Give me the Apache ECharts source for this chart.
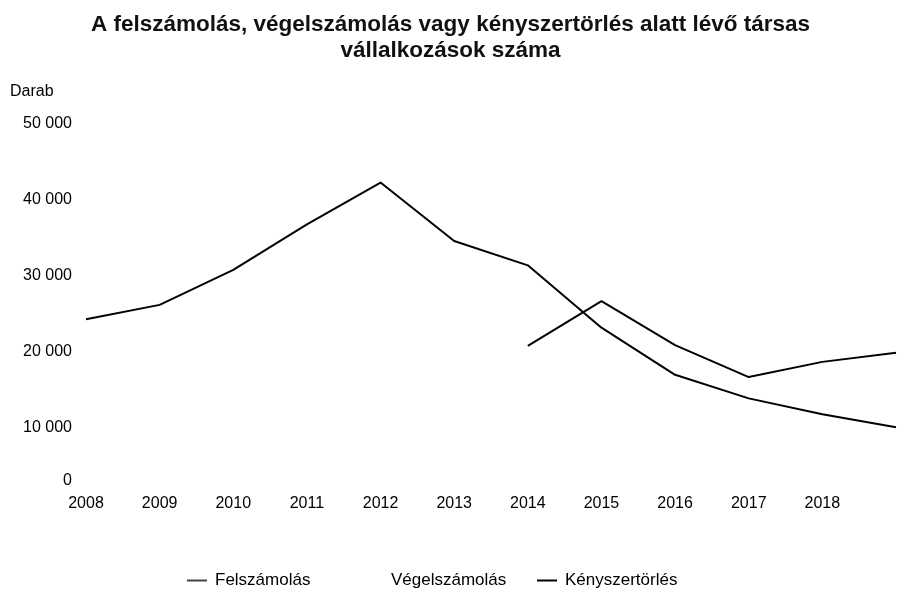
<!DOCTYPE html>
<html>
<head>
<meta charset="utf-8">
<script src="https://cdn.jsdelivr.net/npm/echarts@6/dist/echarts.min.js"></script>
<style>
html,body{margin:0;padding:0;background:#fff;}
#chart{width:901px;height:591px;}
</style>
</head>
<body>
<div id="chart"></div>
<script>
var years = ['2008','2009','2010','2011','2012','2013','2014','2015','2016','2017','2018','2019'];
var yearLabels = ['2008','2009','2010','2011','2012','2013','2014','2015','2016','2017','2018',''];
var felszamolas = [24300, 26200, 30800, 36800, 42300, 34600, 31400, 23200, 17000, 13900, 11800, 10100];
var vegelszamolas = [null, null, null, null, null, null, null, null, null, null, null, null];
var kenyszertorles = [null, null, null, null, null, null, 20800, 26700, 20900, 16700, 18700, 19900];
var yTicks = [0, 10000, 20000, 30000, 40000, 50000];
var yTickLabels = ['0', '10 000', '20 000', '30 000', '40 000', '50 000'];

var chart = echarts.init(document.getElementById('chart'));
var font = '"Liberation Sans", Arial, sans-serif';
function legendAt(name, left, iconColor) {
  return {
    left: left,
    top: 567,
    icon: 'rect',
    itemWidth: 20,
    itemHeight: 2,
    itemGap: 0,
    textStyle: {fontFamily: font, fontSize: 17, color: '#000', padding: [0, 0, 0, 3]},
    data: [{name: name, itemStyle: {color: iconColor, borderWidth: 0}}]
  };
}
chart.setOption({
  animation: false,
  backgroundColor: '#ffffff',
  title: {
    text: 'A felszámolás, végelszámolás vagy kényszertörlés alatt lévő társas\nvállalkozások száma',
    left: 'center',
    top: 7,
    textStyle: {fontFamily: font, fontSize: 22.5, fontWeight: 'bold', color: '#111', lineHeight: 26}
  },
  legend: [
    legendAt('Felszámolás', 182, '#444'),
    legendAt('Végelszámolás', 358, 'rgba(0,0,0,0)'),
    legendAt('Kényszertörlés', 532, '#000')
  ],
  grid: {left: 86, right: 5, top: 124, bottom: 87, containLabel: false},
  xAxis: {
    type: 'category',
    data: years,
    boundaryGap: false,
    axisLine: {show: false},
    axisTick: {show: false},
    splitLine: {show: false},
    axisLabel: {
      interval: 0,
      margin: -8,
      fontFamily: font, fontSize: 16, color: '#000',
      formatter: function (v, i) { return yearLabels[i]; }
    }
  },
  yAxis: {
    type: 'value',
    min: yTicks[0],
    max: yTicks[yTicks.length - 1],
    interval: 10000,
    name: 'Darab',
    nameLocation: 'end',
    nameGap: 24,
    nameTextStyle: {fontFamily: font, fontSize: 16, color: '#000', align: 'left', padding: [0, 0, 0, -76]},
    axisLine: {show: false},
    axisTick: {show: false},
    splitLine: {show: false},
    axisLabel: {
      margin: 14,
      fontFamily: font, fontSize: 16, color: '#000',
      formatter: function (v) {
        var s = yTickLabels[yTicks.indexOf(v)];
        return v === 0 ? '{z|' + s + '}' : s;
      },
      rich: {
        z: {fontFamily: font, fontSize: 16, color: '#000', padding: [0, 0, 46, 0]}
      }
    }
  },
  series: [
    {name: 'Felszámolás', type: 'line', data: felszamolas, symbol: 'none', lineStyle: {color: '#000', width: 2}, itemStyle: {color: '#000'}},
    {name: 'Végelszámolás', type: 'line', data: vegelszamolas, symbol: 'none', lineStyle: {color: '#000', width: 2}, itemStyle: {color: '#000'}},
    {name: 'Kényszertörlés', type: 'line', data: kenyszertorles, symbol: 'none', lineStyle: {color: '#000', width: 2}, itemStyle: {color: '#000'}}
  ]
});
</script>
</body>
</html>
